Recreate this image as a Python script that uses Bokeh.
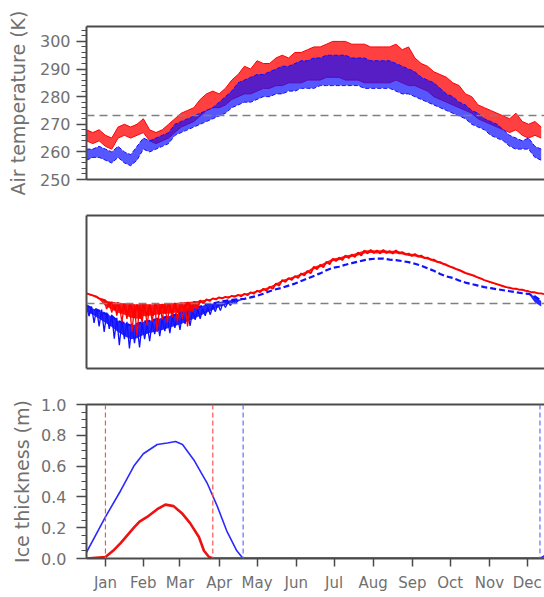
from bokeh.plotting import figure
from bokeh.layouts import column
from bokeh.models import Range1d, Span, LinearAxis, FixedTicker
from bokeh.embed import file_html
from bokeh.resources import INLINE

# ---------------- data ----------------
days5 = list(range(0, 365, 5))  # 0..360

# Panel 1: air temperature (K), daily envelope (high / low) read every 5 days
red_air_hi = [268, 267, 268, 266, 265, 269, 270, 269, 270, 272, 268, 267, 268, 270, 272, 274, 275, 276, 279, 281,
              282, 281, 283, 286, 288, 291, 290, 293, 292, 292, 294, 295, 294, 296, 296, 297, 298, 298, 299, 300,
              300, 300, 299, 299, 299, 298, 298, 298, 298, 299, 297, 298, 294, 292, 291, 289, 288, 287, 285, 284,
              281, 280, 277, 276, 275, 274, 273, 272, 274, 271, 270, 271, 269]
red_air_lo = [264, 263, 264, 262, 261, 265, 266, 265, 266, 267, 264, 263, 264, 265, 267, 269, 270, 271, 273, 275,
              276, 276, 277, 279, 280, 281, 281, 282, 283, 283, 284, 284, 285, 285, 285, 286, 286, 286, 287, 287,
              287, 286, 286, 286, 285, 285, 285, 285, 285, 286, 285, 284, 284, 283, 282, 280, 279, 278, 277, 276,
              275, 274, 272, 271, 270, 269, 268, 267, 268, 266, 265, 266, 265]
blue_air_hi = [261, 261, 262, 261, 260, 262, 260, 259, 262, 265, 264, 265, 266, 267, 270, 271, 272, 273, 274, 275,
               276, 278, 280, 282, 285, 286, 287, 288, 288, 289, 290, 291, 291, 292, 293, 293, 294, 294, 295, 295,
               295, 295, 294, 294, 294, 293, 293, 293, 293, 292, 291, 290, 289, 287, 286, 285, 283, 281, 280, 278,
               277, 275, 274, 272, 271, 270, 268, 266, 265, 264, 265, 262, 261]
blue_air_lo = [257, 258, 258, 257, 256, 258, 256, 255, 257, 261, 260, 261, 262, 263, 266, 267, 268, 269, 270, 271,
               272, 273, 274, 276, 277, 278, 278, 279, 280, 280, 281, 281, 282, 282, 283, 283, 283, 284, 284, 284,
               284, 284, 284, 284, 283, 283, 283, 283, 283, 282, 281, 281, 280, 279, 278, 277, 276, 275, 274, 273,
               272, 270, 269, 268, 266, 265, 264, 262, 261, 261, 261, 258, 257]
freezing_K = 273.15

# Panel 2: (unlabelled) second variable, core envelope read every 5 days
red_p2_hi = [6.0, 5.6, 5.0, 4.6, 4.3, 4.2, 4.0, 4.0, 3.8, 4.0, 3.8, 3.9, 3.9, 4.0, 4.1, 4.2, 4.3, 4.4, 4.6, 4.8,
             5.0, 5.2, 5.3, 5.5, 5.7, 5.9, 6.2, 6.5, 6.9, 7.3, 7.9, 8.6, 9.0, 9.4, 9.9, 10.4, 11.2, 11.6, 12.2, 12.8,
             13.0, 13.4, 13.6, 14.0, 14.4, 14.5, 14.4, 14.5, 14.3, 14.4, 14.1, 13.8, 13.7, 13.4, 13.0, 12.6, 12.1, 11.6, 11.1, 10.6,
             10.0, 9.6, 9.1, 8.6, 8.2, 7.8, 7.4, 7.1, 6.9, 6.7, 6.4, 6.2, 6.0]
red_p2_lo = [5.8, 5.4, 4.8, 3.5, 2.8, 2.2, 1.8, 1.2, 1.0, 1.5, 1.6, 1.8, 2.0, 2.0, 2.2, 2.3, 2.5, 3.0, 4.0, 4.5,
             4.8, 5.0, 5.1, 5.3, 5.4, 5.6, 5.9, 6.2, 6.5, 6.9, 7.5, 8.2, 8.6, 9.0, 9.5, 9.9, 10.7, 11.1, 11.7, 12.3,
             12.5, 12.9, 13.1, 13.4, 13.8, 13.9, 13.8, 13.9, 13.8, 13.8, 13.6, 13.3, 13.2, 12.9, 12.6, 12.2, 11.8, 11.3, 10.8, 10.3,
             9.8, 9.4, 8.9, 8.4, 8.0, 7.6, 7.2, 6.9, 6.7, 6.5, 6.2, 6.0, 5.8]
blue_p2_hi = [3.6, 3.0, 2.6, 2.0, 1.5, 0.5, 0.2, -0.3, 0.0, 0.4, 0.6, 0.9, 1.2, 1.5, 1.8, 2.3, 2.8, 3.2, 3.4, 3.8,
              4.0, 4.3, 4.5, 4.7, 4.8, 4.9, 5.2, 5.5, 5.9, 6.4, 6.8, 7.1, 7.5, 7.9, 8.4, 8.9, 9.4, 9.9, 10.5, 11.0,
              11.2, 11.6, 11.9, 12.2, 12.5, 12.7, 12.8, 12.8, 12.6, 12.5, 12.3, 12.1, 11.8, 11.4, 10.9, 10.4, 9.8, 9.3, 9.0, 8.5,
              8.1, 7.8, 7.5, 7.2, 7.0, 6.8, 6.6, 6.4, 6.2, 6.0, 5.9, 5.4, 4.5]
blue_p2_lo = [2.4, 1.8, 1.0, 0.2, -0.6, -1.6, -2.4, -3.0, -2.8, -2.2, -1.8, -1.5, -1.2, -0.8, -0.4, 0.0, 0.5, 1.0, 1.6, 2.2,
              2.7, 3.3, 3.7, 4.1, 4.4, 4.9, 5.2, 5.5, 5.9, 6.4, 6.8, 7.1, 7.5, 7.9, 8.4, 8.9, 9.4, 9.9, 10.5, 11.0,
              11.2, 11.6, 11.9, 12.2, 12.5, 12.7, 12.8, 12.8, 12.6, 12.5, 12.3, 12.1, 11.8, 11.4, 10.9, 10.4, 9.8, 9.3, 9.0, 8.5,
              8.1, 7.8, 7.5, 7.2, 7.0, 6.8, 6.6, 6.4, 6.2, 6.0, 5.9, 4.2, 3.4]
# Panel 2 winter noise, read every 2 days
red_p2_winter_days = list(range(14, 91, 2))
red_p2_winter_vals = [4.5, 2.9, 4.3, 2.2, 4.2, 1.6, 4.0, 0.3, 3.9, 1.0,
                      3.8, -1.6, 3.6, -2.3, 3.8, 0.3, 4.0, -0.3, 3.7, 0.5,
                      3.9, -1.6, 3.8, 0.9, 4.0, 0.2, 3.9, 1.3, 4.1, 0.3,
                      4.0, 1.0, 4.2, -0.5, 4.2, 2.3, 4.4, 3.0, 4.6]
blue_p2_winter_days = list(range(0, 121, 2))
blue_p2_winter_vals = [3.6, 1.5, 3.4, 0.2, 3.0, -0.5, 2.8, -1.6, 2.2, -1.0,
                       1.8, -2.9, 1.2, -4.2, 0.8, -3.0, 0.4, -4.8, 0.0, -3.8,
                       -0.2, -4.6, 0.2, -3.0, 0.0, -3.4, 0.4, -2.0, 0.7, -2.4,
                       1.0, -1.4, 1.3, -1.8, 1.6, -0.8, 1.8, -1.2, 2.1, 0.0,
                       2.4, -0.4, 2.6, 0.8, 2.8, 1.0, 3.0, 1.6, 3.3, 1.8,
                       3.6, 2.4, 3.9, 2.6, 4.1, 3.2, 4.3, 3.6, 4.5, 4.0,
                       4.6]
p2_reference = 4.0

# Panel 3: ice thickness (m)
blue_ice_days = [0, 15, 27, 37.5, 45, 56, 64, 70.5, 76, 85, 95.5, 103.5, 111, 119, 124, 359, 365]
blue_ice_vals = [0.04, 0.27, 0.44, 0.60, 0.68, 0.74, 0.75, 0.76, 0.74, 0.64, 0.49, 0.34, 0.18, 0.05, 0.0, 0.0, 0.03]
red_ice_days = [0, 15, 21, 27, 37.5, 42, 48, 56, 62.5, 69, 76, 82, 89, 93, 97, 100, 365]
red_ice_vals = [0.0, 0.01, 0.05, 0.10, 0.20, 0.24, 0.27, 0.32, 0.35, 0.34, 0.29, 0.23, 0.14, 0.05, 0.01, 0.0, 0.0]
red_ice_marks = [15, 100]
blue_ice_marks = [124, 359]

month_days = [15, 45, 74, 105, 135, 166, 196, 227, 258, 288, 319, 349]
month_labels = ["Jan", "Feb", "Mar", "Apr", "May", "Jun", "Jul", "Aug", "Sep", "Oct", "Nov", "Dec"]

# ---------------- style ----------------
FRAME = "#4a4a4a"
TXT = "#707070"
FONT = "DejaVu Sans"
RED = "#ff0000"
BLUE = "#1010ff"
X_END = 362.6
W = 544


def zigzag(days, hi, lo, half=2.5):
    xs, ys = [], []
    for d, h, l in zip(days, hi, lo):
        xs += [d, d + half]
        ys += [h, l]
    return xs, ys


def frame_axis():
    return LinearAxis(ticker=FixedTicker(ticks=[]), axis_line_color=FRAME, axis_line_width=2,
                      major_tick_line_color=None, minor_tick_line_color=None,
                      major_label_text_font_size="0px", major_label_standoff=0)


def make_fig(height, border_top, border_bottom, y_range):
    p = figure(width=W, height=height, x_range=Range1d(0, X_END), y_range=y_range,
               output_backend="svg", toolbar_location=None,
               min_border_left=86, min_border_right=0, min_border_top=border_top, min_border_bottom=border_bottom,
               x_axis_location=None, y_axis_location=None)
    p.outline_line_color = None
    p.grid.visible = False
    p.background_fill_color = "white"
    p.border_fill_color = "white"
    p.add_layout(frame_axis(), "above")
    return p


def styled_left(ax, label, ticks, minor, fmt, tick_standoff, label_standoff):
    ax.ticker = FixedTicker(ticks=ticks, minor_ticks=minor)
    ax.major_label_overrides = {t: fmt(t) for t in ticks}
    ax.axis_line_color = FRAME
    ax.axis_line_width = 2
    ax.major_tick_line_color = FRAME
    ax.major_tick_line_width = 1.5
    ax.major_tick_out = 10
    ax.major_tick_in = 0
    ax.minor_tick_line_color = FRAME
    ax.minor_tick_out = 5
    ax.minor_tick_in = 0
    ax.major_label_standoff = tick_standoff
    ax.major_label_text_font = FONT
    ax.major_label_text_font_size = "16px"
    ax.major_label_text_color = TXT
    ax.axis_label = label
    ax.axis_label_text_font = FONT
    ax.axis_label_text_font_size = "19px"
    ax.axis_label_text_font_style = "normal"
    ax.axis_label_text_color = TXT
    ax.axis_label_standoff = label_standoff
    return ax


# ---------------- panel 1 ----------------
p1 = make_fig(197, 26, 18, Range1d(250, 305.4))
p1.add_layout(frame_axis(), "below")
ax1 = styled_left(LinearAxis(), "Air temperature (K)", list(range(250, 301, 10)),
                  list(range(250, 305, 2)), lambda t: str(t), 6, 8)
p1.add_layout(ax1, "left")
p1.varea(x=days5, y1=red_air_lo, y2=red_air_hi, fill_color=RED, fill_alpha=0.75)
p1.line(days5, red_air_hi, line_color=RED, line_width=1)
p1.line(days5, red_air_lo, line_color=RED, line_width=1)
p1.varea(x=days5, y1=blue_air_lo, y2=blue_air_hi, fill_color=BLUE, fill_alpha=0.7)
p1.line(days5, blue_air_hi, line_color=BLUE, line_width=1, line_dash="4 2")
p1.line(days5, blue_air_lo, line_color=BLUE, line_width=1, line_dash="4 2")
p1.add_layout(Span(location=freezing_K, dimension="width", line_color="#808080", line_width=1.5, line_dash="8 5"))

# ---------------- panel 2 ----------------
p2 = make_fig(189, 18, 18, Range1d(-8.75, 21.25))
p2.add_layout(frame_axis(), "below")
p2.add_layout(frame_axis(), "left")
p2.add_layout(Span(location=p2_reference, dimension="width", line_color="#808080", line_width=1.5, line_dash="8 5"))
p2.varea(x=days5, y1=blue_p2_lo, y2=blue_p2_hi, fill_color=BLUE, fill_alpha=0.9)
p2.line(blue_p2_winter_days, blue_p2_winter_vals, line_color=BLUE, line_width=1.3)
p2.line(days5, blue_p2_hi, line_color=BLUE, line_width=2.2, line_dash="6 3")
p2.varea(x=days5, y1=red_p2_lo, y2=red_p2_hi, fill_color=RED, fill_alpha=0.9)
p2.line(red_p2_winter_days, red_p2_winter_vals, line_color=RED, line_width=1.3)
xr2, yr2 = zigzag(days5, red_p2_hi, red_p2_lo)
p2.line(xr2, yr2, line_color=RED, line_width=1.8)

# ---------------- panel 3 ----------------
p3 = make_fig(208, 18, 36, Range1d(0, 1.0))
ax3 = styled_left(LinearAxis(), "Ice thickness (m)", [0.0, 0.2, 0.4, 0.6, 0.8, 1.0],
                  [round(0.05 * i, 2) for i in range(21)], lambda t: f"{t:.1f}", 10, 5)
p3.add_layout(ax3, "left")
bx = LinearAxis(ticker=FixedTicker(ticks=month_days, minor_ticks=[]),
                major_label_overrides={d: m for d, m in zip(month_days, month_labels)},
                axis_line_color=FRAME, axis_line_width=2,
                major_tick_line_color=FRAME, major_tick_line_width=1.5, major_tick_out=8, major_tick_in=0,
                minor_tick_line_color=None, major_label_standoff=7,
                major_label_text_font=FONT, major_label_text_font_size="15px", major_label_text_color=TXT)
p3.add_layout(bx, "below")
for d in red_ice_marks:
    p3.add_layout(Span(location=d, dimension="height", line_color="#ff5050", line_width=1.2, line_dash="5 3"))
for d in blue_ice_marks:
    p3.add_layout(Span(location=d, dimension="height", line_color="#6a6aff", line_width=1.2, line_dash="5 3"))
p3.line(blue_ice_days, blue_ice_vals, line_color="#2a2aff", line_width=1.6)
p3.line(red_ice_days, red_ice_vals, line_color="#ee1111", line_width=2.6)

layout = column(p1, p2, p3, spacing=0)
open("out.html", "w").write(file_html(layout, INLINE))
